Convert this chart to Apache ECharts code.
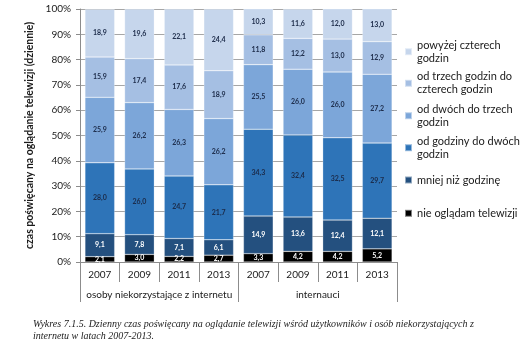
<!DOCTYPE html>
<html>
<head>
<meta charset="utf-8">
<script src="https://cdn.jsdelivr.net/npm/echarts@6/dist/echarts.min.js"></script>
<style>
html,body{margin:0;padding:0;background:#fff;}
#c{width:529px;height:357px;}
</style>
</head>
<body>
<div id="c"></div>
<script>
const years = ['2007','2009','2011','2013','2007','2009','2011','2013'];
const groups = ['osoby niekorzystające z internetu','internauci'];
const yTicks = [0,10,20,30,40,50,60,70,80,90,100];
const nieOgladam = [2.1, 3.0, 2.2, 2.7, 3.3, 4.2, 4.2, 5.2];
const mniejNizGodzine = [9.1, 7.8, 7.1, 6.1, 14.9, 13.6, 12.4, 12.1];
const odGodzinyDoDwoch = [28.0, 26.0, 24.7, 21.7, 34.3, 32.4, 32.5, 29.7];
const odDwochDoTrzech = [25.9, 26.2, 26.3, 26.2, 25.5, 26.0, 26.0, 27.2];
const odTrzechDoCzterech = [15.9, 17.4, 17.6, 18.9, 11.8, 12.2, 13.0, 12.9];
const powyzejCzterech = [18.9, 19.6, 22.1, 24.4, 10.3, 11.6, 12.0, 13.0];
const seriesNames = ['nie oglądam telewizji','mniej niż godzinę','od godziny do dwóch godzin','od dwóch do trzech godzin','od trzech godzin do czterech godzin','powyżej czterech godzin'];
const legendLabels = {
  'powyżej czterech godzin':'powyżej czterech\ngodzin',
  'od trzech godzin do czterech godzin':'od trzech godzin do\nczterech godzin',
  'od dwóch do trzech godzin':'od dwóch do trzech\ngodzin',
  'od godziny do dwóch godzin':'od godziny do dwóch\ngodzin',
  'mniej niż godzinę':'mniej niż godzinę',
  'nie oglądam telewizji':'nie oglądam telewizji'
};
const seriesData = [nieOgladam, mniejNizGodzine, odGodzinyDoDwoch, odDwochDoTrzech, odTrzechDoCzterech, powyzejCzterech];
const colors = ['#000000','#24507f','#2e74b8','#7ca6d9','#a5bfe3','#c6d6ec'];
const labelColors = ['#ffffff','#ffffff','#1b2a48','#1b2a48','#1b2a48','#1b2a48'];

const FONT = 'Lato';
const chart = echarts.init(document.getElementById('c'), null, {renderer:'canvas'});

const legendTops = {
  'powyżej czterech godzin': 32.2,
  'od trzech godzin do czterech godzin': 63.8,
  'od dwóch do trzech godzin': 96.2,
  'od godziny do dwóch godzin': 128.2,
  'mniej niż godzinę': 173.5,
  'nie oglądam telewizji': 206.8
};
const legends = seriesNames.slice().reverse().map(n => {
  const twoLine = legendLabels[n].indexOf('\n') >= 0;
  return {
    data: [{name: n, icon: 'rect'}],
    left: 404,
    top: legendTops[n],
    orient: 'vertical',
    padding: 0,
    itemWidth: 7,
    itemHeight: 7,
    itemGap: 0,
    selectedMode: false,
    formatter: () => legendLabels[n],
    textStyle: {
      fontFamily: FONT, fontSize: 11, lineHeight: 13, color: '#1a1a1a',
      padding: twoLine ? [13, 0, 0, 0] : 0
    }
  };
});

const option = {
  animation: false,
  title: {
    text: 'Wykres 7.1.5. Dzienny czas poświęcany na oglądanie telewizji wśród użytkowników i osób niekorzystających z\ninternetu w latach 2007-2013.',
    left: 33, top: 318, padding: 0,
    textStyle: {fontFamily: 'Liberation Serif', fontStyle: 'italic', fontWeight: 'normal', fontSize: 10, lineHeight: 12, color: '#222'}
  },
  legend: legends,
  grid: {left: 80, right: 132, top: 9, bottom: 95, containLabel: false},
  xAxis: [
    {
      type: 'category', data: years, position: 'bottom',
      axisLine: {show: true, lineStyle: {color: '#8c8c8c', width: 1}},
      axisTick: {show: true, interval: 0, length: 20, lineStyle: {color: '#8c8c8c'}},
      axisLabel: {interval: 0, margin: 8, fontFamily: FONT, fontSize: 10, color: '#1a1a1a'},
      splitLine: {show: false}
    },
    {
      type: 'category', data: groups, position: 'bottom',
      axisLine: {show: false},
      axisTick: {show: true, interval: 0, length: 40, lineStyle: {color: '#8c8c8c'}},
      axisLabel: {interval: 0, margin: 28, fontFamily: FONT, fontSize: 10, color: '#1a1a1a'},
      splitLine: {show: false}
    }
  ],
  yAxis: {
    type: 'value', min: yTicks[0], max: yTicks[yTicks.length-1], interval: 10,
    name: 'czas poświęcany na oglądanie telewizji (dziennie)',
    nameLocation: 'middle', nameRotate: 90, nameGap: 40,
    nameTextStyle: {fontFamily: FONT, fontSize: 10.5, fontWeight: 'bold', color: '#1a1a1a'},
    axisLine: {show: true, lineStyle: {color: '#8c8c8c'}},
    axisTick: {show: true, length: 4, lineStyle: {color: '#8c8c8c'}},
    axisLabel: {formatter: '{value}%', margin: 9, fontFamily: FONT, fontSize: 10, color: '#1a1a1a'},
    splitLine: {show: true, lineStyle: {color: '#a6a6a6', width: 1}}
  },
  series: seriesNames.map((n, i) => ({
    name: n, type: 'bar', stack: 'total', xAxisIndex: 0,
    data: seriesData[i],
    barCategoryGap: '25%',
    itemStyle: {color: colors[i], borderColor: 'rgba(255,255,255,0.5)', borderWidth: 0.5},
    label: {
      show: true, position: 'inside',
      formatter: p => p.value.toFixed(1).replace('.', ','),
      fontFamily: FONT, fontSize: 7, fontWeight: 'bold', color: labelColors[i]
    }
  }))
};
chart.setOption(option);
</script>
</body>
</html>
